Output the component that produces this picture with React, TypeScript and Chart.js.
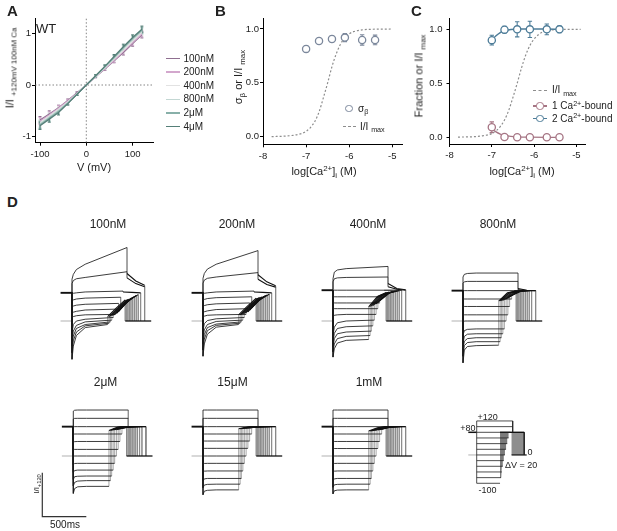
import React, { useEffect, useRef } from "react";
import { Chart, registerables } from "chart.js";

Chart.register(...registerables);

const FONT = "'Liberation Sans', Arial, Helvetica, sans-serif";
Chart.defaults.font.family = FONT;
Chart.defaults.font.size = 9;
Chart.defaults.color = "#222";

// ================= Panel A : I–V relations =================
const IV_VOLTAGES = [-100, -80, -60, -40, -20, 0, 20, 40, 60, 80, 100, 120];
const IV_100NM = [-0.68, -0.56, -0.44, -0.3, -0.15, 0, 0.16, 0.31, 0.47, 0.63, 0.8, 0.97];
const IV_200NM = [-0.7, -0.58, -0.45, -0.31, -0.16, 0, 0.16, 0.32, 0.48, 0.65, 0.82, 0.99];
const IV_400NM = [-0.73, -0.6, -0.47, -0.33, -0.17, 0, 0.17, 0.33, 0.5, 0.67, 0.85, 1.02];
const IV_800NM = [-0.75, -0.62, -0.49, -0.34, -0.17, 0, 0.17, 0.34, 0.52, 0.7, 0.88, 1.04];
const IV_2UM = [-0.77, -0.64, -0.51, -0.35, -0.18, 0, 0.17, 0.35, 0.53, 0.72, 0.9, 1.06];
const IV_4UM = [-0.79, -0.66, -0.53, -0.36, -0.18, 0, 0.18, 0.36, 0.55, 0.74, 0.92, 1.08];
const IV_SEM = [0.07, 0.06, 0.05, 0.03, 0.02, 0, 0.02, 0.03, 0.04, 0.05, 0.05, 0.06];
const IV_NAMES = ["100nM", "200nM", "400nM", "800nM", "2μM", "4μM"];
const IV_COLORS = ["#8f6f90", "#d3a7cd", "#e2e2e2", "#c3d7d3", "#88b0a9", "#557f78"];
const IV_X_TICKS = [-100, 0, 100];
const IV_Y_TICKS = [-1, 0, 1];

// ================= Panel B =================
const LOG_CA = [-7, -6.7, -6.4, -6.1, -5.7, -5.4];
const SIGMA_BETA = [0.815, 0.888, 0.907, 0.92, 0.898, 0.898];
const SIGMA_BETA_SEM = [0.03, 0.025, 0.03, 0.037, 0.048, 0.045];
const IMAX_X_B = [-7.8, -7.5, -7.3, -7.1, -7.0, -6.9, -6.8, -6.7, -6.6, -6.5, -6.4, -6.3, -6.2, -6.1, -6.0, -5.9, -5.7, -5.5, -5.0];
const IMAX_Y_B = [0.001, 0.005, 0.013, 0.03, 0.05, 0.085, 0.14, 0.23, 0.36, 0.5, 0.65, 0.77, 0.86, 0.92, 0.955, 0.975, 0.992, 0.997, 1.0];
const LOG_X_TICKS = [-8, -7, -6, -5];
const FRAC_Y_TICKS = [0, 0.5, 1];

// ================= Panel C =================
const FRAC_2CA = [0.9, 0.997, 1.0, 1.0, 1.0, 1.0];
const FRAC_2CA_SEM = [0.045, 0.03, 0.07, 0.075, 0.05, 0.03];
const FRAC_1CA = [0.093, 0.003, 0.0, 0.0, 0.0, 0.0];
const FRAC_1CA_SEM = [0.05, 0, 0, 0, 0, 0];
const FIT_X = [-7, -6.9, -6.8, -6.7, -6.55, -6.4, -6.1, -5.7, -5.4];
const FIT_2CA = [0.9, 0.94, 0.97, 0.988, 0.998, 1.003, 1.004, 1.002, 1.0];
const FIT_1CA = [0.08, 0.05, 0.03, 0.018, 0.008, 0.004, 0.001, 0.0, 0.0];
const IMAX_X_C = [-7.8, -7.4, -7.2, -7.0, -6.9, -6.8, -6.7, -6.6, -6.5, -6.4, -6.3, -6.2, -6.1, -6.0, -5.9, -5.8, -5.6, -5.3, -4.9];
const IMAX_Y_C = [0.002, 0.006, 0.015, 0.035, 0.06, 0.1, 0.16, 0.25, 0.37, 0.5, 0.64, 0.76, 0.85, 0.91, 0.95, 0.975, 0.993, 0.999, 1.0];

// ================= Panel D : current traces =================
// voltage steps (mV), rows of every trace table follow this order
const VOLTS = [-100, -80, -60, -40, -20, 0, 20, 40, 60, 80, 100, 120];
const STEP_SAMPLE_MS = [0, 15, 50, 150]; // then the step end
const STEP_END_MS = [405, 422, 436, 453, 470, 490, 510, 530, 553, 580, 625, 625];
const TAIL_MID_MS = 100;
const TAIL_MS = 200;
const HOLD_START_MS = -130;
const TRACE_END_MS = 900;
const SCALE_BAR_MS = 500;
const SCALE_BAR_I = 1;

// step currents [onset, 15ms, 50ms, 150ms, end] (I/I+120 units)
const HOLD_100NM = 0.64;
const STEP_100NM = [
  [-0.87, -0.57, -0.33, -0.15, -0.08],
  [-0.72, -0.45, -0.25, -0.11, -0.05],
  [-0.57, -0.34, -0.17, -0.08, -0.02],
  [-0.42, -0.23, -0.1, -0.02, 0.02],
  [-0.27, -0.08, 0.0, 0.04, 0.08],
  [0.08, 0.1, 0.12, 0.14, 0.15],
  [0.18, 0.2, 0.22, 0.25, 0.27],
  [0.32, 0.34, 0.36, 0.38, 0.4],
  [0.46, 0.48, 0.5, 0.52, 0.54],
  [0.62, 0.63, 0.64, 0.66, 0.68],
  [0.85, 0.92, 0.96, 0.99, 1.12],
  [0.95, 1.06, 1.17, 1.29, 1.67],
];
// tail currents at +80 [start, +100ms, end]
const TAIL_100NM = [
  [0.1, 0.3, 0.48], [0.1, 0.3, 0.48], [0.11, 0.31, 0.49], [0.12, 0.32, 0.5],
  [0.13, 0.34, 0.52], [0.15, 0.37, 0.54], [0.18, 0.4, 0.56], [0.22, 0.44, 0.58],
  [0.28, 0.48, 0.6], [0.66, 0.65, 0.64], [0.98, 0.85, 0.78], [1.08, 0.91, 0.81],
];

const HOLD_200NM = 0.64;
const STEP_200NM = [
  [-0.8, -0.52, -0.3, -0.14, -0.08],
  [-0.66, -0.41, -0.22, -0.1, -0.05],
  [-0.52, -0.31, -0.15, -0.07, -0.02],
  [-0.38, -0.2, -0.08, -0.01, 0.02],
  [-0.22, -0.06, 0.01, 0.05, 0.08],
  [0.09, 0.11, 0.13, 0.14, 0.15],
  [0.19, 0.21, 0.23, 0.26, 0.28],
  [0.33, 0.35, 0.37, 0.39, 0.41],
  [0.47, 0.49, 0.51, 0.53, 0.55],
  [0.62, 0.63, 0.64, 0.66, 0.68],
  [0.86, 0.93, 0.97, 1.0, 1.1],
  [0.97, 1.08, 1.18, 1.29, 1.6],
];
const TAIL_200NM = [
  [0.14, 0.34, 0.52], [0.14, 0.34, 0.52], [0.15, 0.35, 0.53], [0.16, 0.36, 0.54],
  [0.17, 0.38, 0.55], [0.19, 0.4, 0.56], [0.21, 0.43, 0.58], [0.25, 0.46, 0.59],
  [0.3, 0.5, 0.61], [0.66, 0.65, 0.64], [0.95, 0.83, 0.77], [1.05, 0.89, 0.8],
];

const HOLD_400NM = 0.7;
const STEP_400NM = [
  [-0.82, -0.63, -0.5, -0.44, -0.42],
  [-0.7, -0.52, -0.4, -0.35, -0.33],
  [-0.59, -0.4, -0.29, -0.25, -0.23],
  [-0.48, -0.28, -0.17, -0.13, -0.11],
  [-0.33, -0.14, -0.04, 0.0, 0.02],
  [0.1, 0.13, 0.14, 0.15, 0.15],
  [0.26, 0.28, 0.28, 0.28, 0.28],
  [0.39, 0.41, 0.41, 0.41, 0.41],
  [0.53, 0.55, 0.55, 0.55, 0.55],
  [0.68, 0.7, 0.7, 0.7, 0.7],
  [0.89, 0.96, 0.98, 0.99, 1.0],
  [0.96, 1.11, 1.16, 1.19, 1.24],
];
const TAIL_400NM = [
  [0.32, 0.56, 0.65], [0.33, 0.57, 0.65], [0.34, 0.57, 0.66], [0.35, 0.58, 0.66],
  [0.37, 0.59, 0.67], [0.39, 0.6, 0.67], [0.42, 0.62, 0.68], [0.46, 0.63, 0.68],
  [0.5, 0.65, 0.69], [0.7, 0.7, 0.7], [0.78, 0.72, 0.7], [0.85, 0.74, 0.71],
];

const HOLD_800NM = 0.69;
const STEP_800NM = [
  [-0.95, -0.66, -0.58, -0.56, -0.55],
  [-0.8, -0.56, -0.49, -0.47, -0.47],
  [-0.65, -0.46, -0.4, -0.38, -0.38],
  [-0.5, -0.35, -0.3, -0.29, -0.29],
  [-0.32, -0.22, -0.19, -0.18, -0.18],
  [-0.03, 0.0, 0.0, 0.0, 0.0],
  [0.13, 0.14, 0.14, 0.14, 0.14],
  [0.32, 0.33, 0.33, 0.33, 0.33],
  [0.49, 0.5, 0.5, 0.5, 0.5],
  [0.68, 0.69, 0.69, 0.69, 0.69],
  [0.86, 0.89, 0.9, 0.9, 0.9],
  [1.0, 1.06, 1.08, 1.09, 1.09],
];
const TAIL_800NM = [
  [0.45, 0.64, 0.68], [0.46, 0.64, 0.68], [0.46, 0.65, 0.68], [0.47, 0.65, 0.68],
  [0.48, 0.65, 0.68], [0.5, 0.66, 0.69], [0.52, 0.66, 0.69], [0.55, 0.67, 0.69],
  [0.58, 0.67, 0.69], [0.69, 0.69, 0.69], [0.71, 0.69, 0.69], [0.74, 0.7, 0.69],
];

const HOLD_2UM = 0.667;
const STEP_2UM = [
  [-0.85, -0.74, -0.7, -0.69, -0.69],
  [-0.68, -0.6, -0.57, -0.56, -0.56],
  [-0.53, -0.47, -0.46, -0.455, -0.455],
  [-0.37, -0.33, -0.32, -0.32, -0.32],
  [-0.2, -0.17, -0.167, -0.167, -0.167],
  [0.0, 0.0, 0.0, 0.0, 0.0],
  [0.15, 0.15, 0.15, 0.15, 0.15],
  [0.32, 0.326, 0.33, 0.33, 0.33],
  [0.49, 0.5, 0.5, 0.5, 0.5],
  [0.667, 0.667, 0.667, 0.667, 0.667],
  [0.84, 0.855, 0.856, 0.856, 0.856],
  [1.02, 1.04, 1.045, 1.045, 1.045],
];
const TAIL_2UM = [
  [0.58, 0.66, 0.667], [0.58, 0.66, 0.667], [0.59, 0.66, 0.667], [0.59, 0.66, 0.667],
  [0.6, 0.66, 0.667], [0.6, 0.66, 0.667], [0.61, 0.66, 0.667], [0.62, 0.66, 0.667],
  [0.63, 0.665, 0.667], [0.667, 0.667, 0.667], [0.667, 0.667, 0.667], [0.667, 0.667, 0.667],
];

const HOLD_15UM = 0.667;
const STEP_15UM = [
  [-0.88, -0.8, -0.78, -0.77, -0.77],
  [-0.72, -0.66, -0.645, -0.64, -0.64],
  [-0.56, -0.52, -0.51, -0.51, -0.51],
  [-0.37, -0.345, -0.34, -0.34, -0.34],
  [-0.18, -0.17, -0.167, -0.167, -0.167],
  [0.0, 0.0, 0.0, 0.0, 0.0],
  [0.174, 0.174, 0.174, 0.174, 0.174],
  [0.34, 0.34, 0.34, 0.34, 0.34],
  [0.5, 0.5, 0.5, 0.5, 0.5],
  [0.667, 0.667, 0.667, 0.667, 0.667],
  [0.856, 0.856, 0.856, 0.856, 0.856],
  [1.045, 1.045, 1.045, 1.045, 1.045],
];
const TAIL_15UM = [
  [0.62, 0.66, 0.667], [0.62, 0.66, 0.667], [0.62, 0.66, 0.667], [0.63, 0.66, 0.667],
  [0.63, 0.66, 0.667], [0.63, 0.66, 0.667], [0.64, 0.665, 0.667], [0.64, 0.665, 0.667],
  [0.65, 0.665, 0.667], [0.667, 0.667, 0.667], [0.667, 0.667, 0.667], [0.667, 0.667, 0.667],
];

const HOLD_1MM = 0.667;
const STEP_1MM = [
  [-0.86, -0.79, -0.775, -0.77, -0.77],
  [-0.71, -0.655, -0.645, -0.64, -0.64],
  [-0.55, -0.52, -0.51, -0.51, -0.51],
  [-0.36, -0.345, -0.34, -0.34, -0.34],
  [-0.18, -0.17, -0.167, -0.167, -0.167],
  [0.0, 0.0, 0.0, 0.0, 0.0],
  [0.17, 0.17, 0.17, 0.17, 0.17],
  [0.33, 0.33, 0.33, 0.33, 0.33],
  [0.5, 0.5, 0.5, 0.5, 0.5],
  [0.667, 0.667, 0.667, 0.667, 0.667],
  [0.856, 0.856, 0.856, 0.856, 0.856],
  [1.045, 1.045, 1.045, 1.045, 1.045],
];
const TAIL_1MM = [
  [0.57, 0.64, 0.667], [0.57, 0.64, 0.667], [0.57, 0.64, 0.667], [0.58, 0.64, 0.667],
  [0.58, 0.645, 0.667], [0.59, 0.645, 0.667], [0.59, 0.65, 0.667], [0.6, 0.65, 0.667],
  [0.61, 0.655, 0.667], [0.667, 0.667, 0.667], [0.667, 0.667, 0.667], [0.667, 0.667, 0.667],
];

// protocol cartoon
const PROTO_HOLD_MV = 80;
const PROTO_REST_MV = 0;
const PROTO_HOLD_START_MS = -146;
const PROTO_END_MS = 868;

// ================= layout constants (pixels) =================
const MS_PER_PX = 500 / 44;
const UNIT_PX = 44;
const ROW1_ZERO_Y = 320.5;
const ROW2_ZERO_Y = 456;

type Pt = { x: number; y: number };
const pts = (xs: number[], ys: number[]): Pt[] => xs.map((x, i) => ({ x, y: ys[i] }));

const errorBarPlugin = {
  id: "errbars",
  beforeDatasetsDraw(chart: any) {
    const ctx = chart.ctx;
    const xs = chart.scales.x;
    const ys = chart.scales.y;
    chart.data.datasets.forEach((ds: any) => {
      if (!ds.errors) return;
      ctx.save();
      ctx.strokeStyle = ds.errorColor;
      ctx.lineWidth = ds.errorWidth || 1;
      ds.data.forEach((p: Pt, j: number) => {
        const e = ds.errors[j];
        if (!e) return;
        const x = xs.getPixelForValue(p.x);
        const y1 = ys.getPixelForValue(p.y + e);
        const y2 = ys.getPixelForValue(p.y - e);
        const c = ds.capWidth || 2;
        ctx.beginPath();
        ctx.moveTo(x, y1);
        ctx.lineTo(x, y2);
        ctx.moveTo(x - c, y1);
        ctx.lineTo(x + c, y1);
        ctx.moveTo(x - c, y2);
        ctx.lineTo(x + c, y2);
        ctx.stroke();
      });
      ctx.restore();
    });
  },
};

function ChartCanvas(props: { left: number; top: number; width: number; height: number; make: () => any }) {
  const ref = useRef<HTMLCanvasElement>(null);
  useEffect(() => {
    const chart = new Chart(ref.current as HTMLCanvasElement, props.make());
    return () => chart.destroy();
  }, []);
  return (
    <canvas
      ref={ref}
      width={props.width}
      height={props.height}
      style={{ position: "absolute", left: props.left, top: props.top, width: props.width, height: props.height }}
    />
  );
}

function Txt(props: any) {
  const { x, y, size, anchor = "middle", rotate = false, weight = "normal", color = "#222", children } = props;
  const tx = anchor === "middle" ? "-50%" : anchor === "end" ? "-100%" : "0";
  return (
    <div
      style={{
        position: "absolute",
        left: x,
        top: y,
        fontSize: size,
        lineHeight: 1,
        whiteSpace: "nowrap",
        fontWeight: weight,
        color,
        transform: rotate ? "translate(-50%, -50%) rotate(-90deg)" : `translate(${tx}, -50%)`,
      }}
    >
      {children}
    </div>
  );
}
const Sub = (p: any) => <span style={{ fontSize: "0.72em", position: "relative", top: "0.35em" }}>{p.children}</span>;
const Sup = (p: any) => <span style={{ fontSize: "0.72em", position: "relative", top: "-0.45em" }}>{p.children}</span>;

function axisCommon(ticks: number[], fit: (a: any) => void, extra: any) {
  return {
    type: "linear",
    afterBuildTicks: (a: any) => {
      a.ticks = ticks.map((v) => ({ value: v }));
    },
    afterFit: fit,
    grid: { drawOnChartArea: false, drawTicks: true, tickLength: 3, tickColor: "#000", tickWidth: 1 },
    border: { color: "#000", width: 1 },
    ticks: { font: { size: 9.5, family: FONT }, color: "#222", maxRotation: 0, autoSkip: false, ...(extra.ticks || {}) },
    min: extra.min,
    max: extra.max,
  };
}

const baseOptions = (scales: any, padding: any) => ({
  responsive: false,
  animation: false,
  events: [],
  layout: { padding },
  plugins: { legend: { display: false }, tooltip: { enabled: false } },
  elements: { point: { radius: 0, hoverRadius: 0 }, line: { tension: 0 } },
  scales,
});

// ---------- Panel A config ----------
function makeA() {
  const series = [IV_100NM, IV_200NM, IV_400NM, IV_800NM, IV_2UM, IV_4UM];
  const xMin = -110.8, xMax = 144, yMin = -1.116, yMax = 1.296;
  const datasets: any[] = [
    { data: [{ x: 0, y: yMin }, { x: 0, y: yMax }], showLine: true, borderColor: "#666", borderWidth: 0.8, borderDash: [1.5, 2], pointRadius: 0, order: 5 },
    { data: [{ x: xMin, y: 0 }, { x: xMax, y: 0 }], showLine: true, borderColor: "#666", borderWidth: 0.8, borderDash: [1.5, 2], pointRadius: 0, order: 5 },
  ];
  series.forEach((ys, i) => {
    datasets.push({
      data: pts(IV_VOLTAGES, ys),
      showLine: true,
      borderColor: IV_COLORS[i],
      borderWidth: 1.3,
      pointRadius: 0,
      errors: IV_SEM,
      errorColor: IV_COLORS[i],
      capWidth: 1.5,
      order: 6 - i,
    });
  });
  return {
    type: "scatter",
    data: { datasets },
    plugins: [errorBarPlugin],
    options: baseOptions(
      {
        x: axisCommon(IV_X_TICKS, (a: any) => { a.height = 37.3; }, { min: xMin, max: xMax, ticks: { padding: 3 } }),
        y: axisCommon(IV_Y_TICKS, (a: any) => { a.width = 35; }, { min: yMin, max: yMax, ticks: { padding: 1 } }),
      },
      { top: 18, right: 12, left: 0, bottom: 0 }
    ),
  };
}

const DOT_COLOR = "#8d8d8d";
const SIGMA_COLOR = "#7c889c";
const CA2_COLOR = "#4d7c98";
const CA1_COLOR = "#a67584";

// ---------- Panel B config ----------
function makeB() {
  const datasets: any[] = [
    { data: pts(IMAX_X_B, IMAX_Y_B), showLine: true, borderColor: DOT_COLOR, borderWidth: 1.2, borderDash: [2, 2], pointRadius: 0, cubicInterpolationMode: "monotone", order: 3 },
    {
      data: pts(LOG_CA, SIGMA_BETA), showLine: false, pointRadius: 3.6, pointBorderColor: SIGMA_COLOR, pointBackgroundColor: "#fff",
      pointBorderWidth: 1.3, errors: SIGMA_BETA_SEM, errorColor: SIGMA_COLOR, capWidth: 2.2, errorWidth: 1.1, order: 1,
    },
  ];
  return {
    type: "scatter",
    data: { datasets },
    plugins: [errorBarPlugin],
    options: baseOptions(
      {
        x: axisCommon(LOG_X_TICKS, (a: any) => { a.height = 35.7; }, { min: -8, max: -4.775, ticks: { padding: 3 } }),
        y: axisCommon(FRAC_Y_TICKS, (a: any) => { a.width = 48; }, { min: -0.0706, max: 1.102, ticks: { padding: 1, callback: (v: any) => Number(v).toFixed(1) } }),
      },
      { top: 18, right: 8, left: 0, bottom: 0 }
    ),
  };
}

// ---------- Panel C config ----------
function makeC() {
  const datasets: any[] = [
    { data: pts(IMAX_X_C, IMAX_Y_C), showLine: true, borderColor: DOT_COLOR, borderWidth: 1.2, borderDash: [2, 2], pointRadius: 0, cubicInterpolationMode: "monotone", order: 4 },
    { data: pts(FIT_X, FIT_1CA), showLine: true, borderColor: CA1_COLOR, borderWidth: 1.3, pointRadius: 0, cubicInterpolationMode: "monotone", order: 3 },
    { data: pts(FIT_X, FIT_2CA), showLine: true, borderColor: CA2_COLOR, borderWidth: 1.5, pointRadius: 0, cubicInterpolationMode: "monotone", order: 3 },
    {
      data: pts(LOG_CA, FRAC_1CA), showLine: false, pointRadius: 3.6, pointBorderColor: CA1_COLOR, pointBackgroundColor: "#fff",
      pointBorderWidth: 1.3, errors: FRAC_1CA_SEM, errorColor: CA1_COLOR, capWidth: 2.2, errorWidth: 1.1, order: 1,
    },
    {
      data: pts(LOG_CA, FRAC_2CA), showLine: false, pointRadius: 3.6, pointBorderColor: CA2_COLOR, pointBackgroundColor: "#fff",
      pointBorderWidth: 1.3, errors: FRAC_2CA_SEM, errorColor: CA2_COLOR, capWidth: 2.2, errorWidth: 1.1, order: 1,
    },
  ];
  return {
    type: "scatter",
    data: { datasets },
    plugins: [errorBarPlugin],
    options: baseOptions(
      {
        x: axisCommon(LOG_X_TICKS, (a: any) => { a.height = 36; }, { min: -8, max: -4.797, ticks: { padding: 3 } }),
        y: axisCommon(FRAC_Y_TICKS, (a: any) => { a.width = 34.5; }, { min: -0.062, max: 1.105, ticks: { padding: 4, callback: (v: any) => Number(v).toFixed(1) } }),
      },
      { top: 18, right: 32, left: 0, bottom: 0 }
    ),
  };
}

// ---------- Panel D traces ----------
const line = (data: Pt[], color: string, width: number, order: number, extra: any = {}) => ({
  data, showLine: true, borderColor: color, borderWidth: width, pointRadius: 0, order, ...extra,
});

function traceDatasets(hold: number, step: number[][], tail: number[][]) {
  const ds: any[] = [];
  ds.push(line([{ x: HOLD_START_MS, y: 0 }, { x: 0, y: 0 }], "#a8a8a8", 0.9, 3));
  ds.push(line([{ x: HOLD_START_MS, y: hold }, { x: 0, y: hold }], "#111", 1.9, 1));
  const t2s: number[] = [];
  VOLTS.forEach((_, k) => {
    const s = step[k];
    const t1 = STEP_END_MS[k];
    const t2 = t1 + TAIL_MS;
    t2s.push(t2);
    const stepPts: Pt[] = [{ x: 0, y: hold }];
    STEP_SAMPLE_MS.forEach((t, j) => stepPts.push({ x: t, y: s[j] }));
    stepPts.push({ x: t1, y: s[4] });
    ds.push(line(stepPts, "#1a1a1a", 0.85, 1));
    ds.push(line([{ x: t1, y: s[4] }, { x: t1, y: tail[k][0] }], "#8a8a8a", 0.75, 2));
    ds.push(line([{ x: t1, y: tail[k][0] }, { x: t1 + TAIL_MID_MS, y: tail[k][1] }, { x: t2, y: tail[k][2] }], "#111", 1.1, 1));
    ds.push(line([{ x: t2, y: tail[k][2] }, { x: t2, y: 0 }], "#8a8a8a", 0.75, 2));
  });
  ds.push(line([{ x: Math.min(...t2s), y: 0 }, { x: TRACE_END_MS, y: 0 }], "#111", 1.3, 1));
  return ds;
}

function makeTrace(spec: any) {
  const tMin = (spec.left - spec.stepX) * MS_PER_PX;
  const tMax = (spec.left + spec.width - spec.stepX) * MS_PER_PX;
  const yMax = (spec.zeroY - spec.top) / UNIT_PX;
  const yMin = (spec.zeroY - spec.top - spec.height) / UNIT_PX;
  const datasets = traceDatasets(spec.hold, spec.step, spec.tail);
  if (spec.scaleBar) {
    const bx = (spec.scaleBar.x - spec.stepX) * MS_PER_PX;
    const by = (spec.zeroY - spec.scaleBar.y) / UNIT_PX;
    datasets.push(line([{ x: bx, y: by + SCALE_BAR_I }, { x: bx, y: by }, { x: bx + SCALE_BAR_MS, y: by }], "#333", 1.2, 1));
  }
  return {
    type: "scatter",
    data: { datasets },
    options: baseOptions(
      {
        x: { type: "linear", display: false, min: tMin, max: tMax },
        y: { type: "linear", display: false, min: yMin, max: yMax },
      },
      0
    ),
  };
}

const TRACE_PANELS = [
  { name: "100nM", stepX: 72.3, zeroY: ROW1_ZERO_Y, titleX: 108, hold: HOLD_100NM, step: STEP_100NM, tail: TAIL_100NM },
  { name: "200nM", stepX: 203.3, zeroY: ROW1_ZERO_Y, titleX: 237, hold: HOLD_200NM, step: STEP_200NM, tail: TAIL_200NM },
  { name: "400nM", stepX: 333.3, zeroY: ROW1_ZERO_Y, titleX: 368, hold: HOLD_400NM, step: STEP_400NM, tail: TAIL_400NM },
  { name: "800nM", stepX: 463.3, zeroY: ROW1_ZERO_Y, titleX: 498, hold: HOLD_800NM, step: STEP_800NM, tail: TAIL_800NM },
  { name: "2μM", stepX: 73.3, zeroY: ROW2_ZERO_Y, titleX: 105.5, hold: HOLD_2UM, step: STEP_2UM, tail: TAIL_2UM, wide: true },
  { name: "15μM", stepX: 202.7, zeroY: ROW2_ZERO_Y, titleX: 232.5, hold: HOLD_15UM, step: STEP_15UM, tail: TAIL_15UM },
  { name: "1mM", stepX: 333.3, zeroY: ROW2_ZERO_Y, titleX: 369, hold: HOLD_1MM, step: STEP_1MM, tail: TAIL_1MM },
];

// ---------- protocol cartoon ----------
const PROTO = { left: 455, top: 405, width: 85, height: 95, stepX: 476.7, holdY: 432.3, msPerPx: 17.36, mvPerPx: 3.53 };

function makeProtocol() {
  const p = PROTO;
  const tMin = (p.left - p.stepX) * p.msPerPx;
  const tMax = (p.left + p.width - p.stepX) * p.msPerPx;
  const vMax = PROTO_HOLD_MV + (p.holdY - p.top) * p.mvPerPx;
  const vMin = PROTO_HOLD_MV - (p.top + p.height - p.holdY) * p.mvPerPx;
  const ds: any[] = [];
  const top = VOLTS.indexOf(PROTO_HOLD_MV);
  const stairs: Pt[] = [{ x: STEP_END_MS[0], y: VOLTS[0] }, { x: STEP_END_MS[0], y: PROTO_HOLD_MV }];
  for (let k = top - 1; k >= 0; k--) {
    stairs.push({ x: STEP_END_MS[k], y: VOLTS[k + 1] });
    stairs.push({ x: STEP_END_MS[k], y: VOLTS[k] });
  }
  ds.push({ data: stairs, showLine: true, borderWidth: 0, borderColor: "rgba(0,0,0,0)", backgroundColor: "#7b7b7b", fill: "shape", pointRadius: 0, order: 4 });
  const t2min = STEP_END_MS[0] + TAIL_MS;
  const t2max = Math.max(...STEP_END_MS) + TAIL_MS;
  ds.push({
    data: [{ x: t2min, y: PROTO_REST_MV }, { x: t2min, y: PROTO_HOLD_MV }, { x: t2max, y: PROTO_HOLD_MV }, { x: t2max, y: PROTO_REST_MV }],
    showLine: true, borderWidth: 0, borderColor: "rgba(0,0,0,0)", backgroundColor: "#8e8e8e", fill: "shape", pointRadius: 0, order: 4,
  });
  VOLTS.forEach((v, k) => ds.push(line([{ x: 0, y: v }, { x: STEP_END_MS[k], y: v }], "#222", 0.8, 1)));
  ds.push(line([{ x: 0, y: VOLTS[0] }, { x: 0, y: VOLTS[VOLTS.length - 1] }], "#222", 0.8, 1));
  ds.push(line([{ x: STEP_END_MS[11], y: VOLTS[11] }, { x: STEP_END_MS[11], y: PROTO_HOLD_MV }], "#222", 0.8, 1));
  ds.push(line([{ x: PROTO_HOLD_START_MS, y: PROTO_HOLD_MV }, { x: 0, y: PROTO_HOLD_MV }], "#111", 1.5, 1));
  ds.push(line([{ x: STEP_END_MS[0], y: PROTO_HOLD_MV }, { x: t2max, y: PROTO_HOLD_MV }], "#111", 1.4, 1));
  ds.push(line([{ x: t2max, y: PROTO_HOLD_MV }, { x: t2max, y: PROTO_REST_MV }], "#222", 0.9, 1));
  ds.push(line([{ x: PROTO_HOLD_START_MS, y: PROTO_REST_MV }, { x: 0, y: PROTO_REST_MV }], "#aaa", 0.9, 3));
  ds.push(line([{ x: t2min, y: PROTO_REST_MV }, { x: PROTO_END_MS, y: PROTO_REST_MV }], "#111", 1.2, 1));
  return {
    type: "scatter",
    data: { datasets: ds },
    options: baseOptions(
      {
        x: { type: "linear", display: false, min: tMin, max: tMax },
        y: { type: "linear", display: false, min: vMin, max: vMax },
      },
      0
    ),
  };
}

function Legend() {
  return (
    <>
      {IV_NAMES.map((n, i) => {
        const y = 58.5 + i * 13.6;
        return (
          <React.Fragment key={n}>
            <div style={{ position: "absolute", left: 165.7, top: y - 0.75, width: 14.3, height: 1.5, background: IV_COLORS[i] }} />
            <Txt x={183.5} y={y} size={10} anchor="start">{n}</Txt>
          </React.Fragment>
        );
      })}
    </>
  );
}

const Circle = (p: any) => (
  <div style={{ position: "absolute", left: p.x - 3.6, top: p.y - 3.6, width: 7.2, height: 7.2, boxSizing: "border-box", borderRadius: "50%", border: `1.3px solid ${p.color}`, background: "#fff" }} />
);
const Dash = (p: any) => (
  <div style={{ position: "absolute", left: p.x1, top: p.y - 0.6, width: p.x2 - p.x1, height: 0, borderTop: `1.2px dashed ${DOT_COLOR}` }} />
);
const Solid = (p: any) => (
  <div style={{ position: "absolute", left: p.x1, top: p.y - 0.7, width: p.x2 - p.x1, height: 1.4, background: p.color }} />
);

export default function App() {
  return (
    <div style={{ position: "absolute", left: 0, top: 0, width: 617, height: 531, background: "#fff", fontFamily: FONT, color: "#222", overflow: "hidden" }}>
      {/* Panel A */}
      <ChartCanvas left={0} top={0} width={165} height={180} make={makeA} />
      {/* Panel B */}
      <ChartCanvas left={215} top={0} width={195} height={180} make={makeB} />
      {/* Panel C */}
      <ChartCanvas left={415} top={0} width={202} height={180} make={makeC} />

      {/* Panel D traces */}
      {TRACE_PANELS.map((p: any) => {
        const left = p.wide ? 30 : p.stepX - 14;
        const width = p.wide ? 130 : 100;
        const top = p.zeroY - 110;
        const height = Math.round(p.wide ? 531 - top : 165);
        const spec = { ...p, left, width, top, height, scaleBar: p.wide ? { x: 42.3, y: 516.7 } : null };
        return <ChartCanvas key={p.name} left={left} top={top} width={width} height={height} make={() => makeTrace(spec)} />;
      })}
      <ChartCanvas left={PROTO.left} top={PROTO.top} width={PROTO.width} height={PROTO.height} make={makeProtocol} />

      {/* letters */}
      <Txt x={7} y={9.5} size={15} weight="bold" anchor="start">A</Txt>
      <Txt x={215} y={9.5} size={15} weight="bold" anchor="start">B</Txt>
      <Txt x={411} y={9.5} size={15} weight="bold" anchor="start">C</Txt>
      <Txt x={7} y={201} size={15} weight="bold" anchor="start">D</Txt>

      {/* Panel A texts */}
      <Txt x={36} y={27.5} size={13} anchor="start">WT</Txt>
      <Txt x={94} y={167} size={11}>V (mV)</Txt>
      <Txt x={10} y={68} size={11} rotate>
        I/I <Sub>+120mV 100nM Ca</Sub>
      </Txt>
      <Legend />

      {/* Panel B texts */}
      <Txt x={238} y={77} size={11} rotate>
        σ<Sub>β</Sub> or I/I <Sub>max</Sub>
      </Txt>
      <Txt x={324} y={171} size={11}>
        log[Ca<Sup>2+</Sup>]<Sub>i</Sub> (M)
      </Txt>
      <Circle x={349} y={108.3} color={SIGMA_COLOR} />
      <Txt x={358} y={108.5} size={10} anchor="start">
        σ<Sub>β</Sub>
      </Txt>
      <Dash x1={343.3} x2={356} y={126.7} />
      <Txt x={360} y={126.5} size={10} anchor="start">
        I/I <Sub>max</Sub>
      </Txt>

      {/* Panel C texts */}
      <Txt x={419} y={76} size={11} rotate>
        Fraction or I/I <Sub>max</Sub>
      </Txt>
      <Txt x={522} y={171} size={11}>
        log[Ca<Sup>2+</Sup>]<Sub>i</Sub> (M)
      </Txt>
      <Dash x1={533} x2={547} y={90.5} />
      <Txt x={552} y={90} size={10} anchor="start">
        I/I <Sub>max</Sub>
      </Txt>
      <Solid x1={533} x2={547} y={106} color={CA1_COLOR} />
      <Circle x={540} y={106} color={CA1_COLOR} />
      <Txt x={552} y={106} size={10} anchor="start">
        1 Ca<Sup>2+</Sup>-bound
      </Txt>
      <Solid x1={533} x2={547} y={118.5} color={CA2_COLOR} />
      <Circle x={540} y={118.5} color={CA2_COLOR} />
      <Txt x={552} y={118.5} size={10} anchor="start">
        2 Ca<Sup>2+</Sup>-bound
      </Txt>

      {/* Panel D titles */}
      {TRACE_PANELS.map((p: any) => (
        <Txt key={"t" + p.name} x={p.titleX} y={p.zeroY === ROW1_ZERO_Y ? 223.5 : 381.7} size={12}>
          {p.name}
        </Txt>
      ))}

      {/* scale bar labels */}
      <Txt x={65} y={524.5} size={10}>500ms</Txt>
      <Txt x={37} y={484} size={8} rotate>
        I/I<Sub>+120</Sub>
      </Txt>

      {/* protocol labels */}
      <Txt x={487.7} y={416.5} size={9}>+120</Txt>
      <Txt x={468} y={428.3} size={9}>+80</Txt>
      <Txt x={530} y={452} size={9}>0</Txt>
      <Txt x={505} y={465} size={9} anchor="start">ΔV = 20</Txt>
      <Txt x={487.5} y={490} size={9}>-100</Txt>
    </div>
  );
}
